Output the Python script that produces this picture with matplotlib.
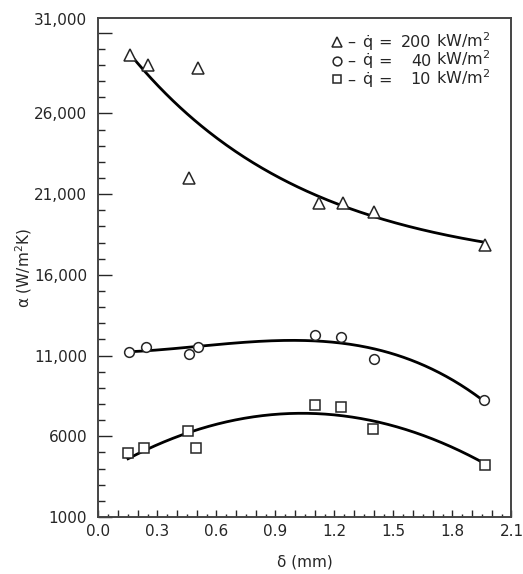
import numpy as np
import matplotlib
matplotlib.use("Agg")
import matplotlib.pyplot as plt
from matplotlib.ticker import MultipleLocator, FixedLocator, FuncFormatter
from matplotlib.lines import Line2D
from matplotlib.transforms import ScaledTranslation

plt.rcParams['font.family'] = ['DejaVu Sans']
plt.rcParams['mathtext.fontset'] = 'dejavusans'

# data (delta in mm, alpha in W/m2K)
x_200 = [0.161, 0.251, 0.505, 0.463, 1.12, 1.242, 1.399, 1.967]
y_200 = [29600, 28980, 28840, 22000, 20460, 20460, 19900, 17870]

x_40 = [0.154, 0.243, 0.463, 0.505, 1.101, 1.235, 1.40, 1.959]
y_40 = [11200, 11556, 11124, 11556, 12253, 12148, 10815, 8260]

x_10 = [0.151, 0.234, 0.458, 0.497, 1.101, 1.235, 1.396, 1.964]
y_10 = [4970, 5260, 6330, 5280, 7910, 7830, 6450, 4250]

ytick_vals = [1000, 6000, 11000, 16000, 21000, 26000, 31000]
ytick_labels = ["1000", "6000", "11,000", "16,000", "21,000", "26,000", "31,000"]

legend_q = ["200", "40", "10"]
legend_markers = ["^", "o", "s"]

ink = "#262626"
fs = 11
W, H = 523, 574

fig = plt.figure(figsize=(W / 100, H / 100), dpi=100)
ax = fig.add_axes([0.188, 0.0993, 0.790, 0.869])

# trend curves fitted to the points
def exp_fit(x, y):
    x = np.asarray(x); y = np.asarray(y)
    best = None
    for c in np.linspace(0.2, 5, 400):
        A = np.vstack([np.ones_like(x), np.exp(-c * x)]).T
        coef, res, _, _ = np.linalg.lstsq(A, y, rcond=None)
        err = np.sum((A @ coef - y) ** 2)
        if best is None or err < best[0]:
            best = (err, c, coef)
    return best[1], best[2]

c, (a, b) = exp_fit(x_200, y_200)
xs = np.linspace(min(x_200), max(x_200), 200)
ax.plot(xs, a + b * np.exp(-c * xs), color="black", lw=2, zorder=2)

p40 = np.polyfit(x_40, y_40, 3)
xs = np.linspace(min(x_40), max(x_40), 200)
ax.plot(xs, np.polyval(p40, xs), color="black", lw=2, zorder=2)

p10 = np.polyfit(x_10, y_10, 2)
xs = np.linspace(min(x_10), max(x_10), 200)
ax.plot(xs, np.polyval(p10, xs), color="black", lw=2, zorder=2)

mk = dict(linestyle="none", markerfacecolor="white", markeredgecolor=ink, markeredgewidth=1.1, zorder=3)
ax.plot(x_200, y_200, marker="^", markersize=8.6, **mk)
ax.plot(x_40, y_40, marker="o", markersize=7, **mk)
ax.plot(x_10, y_10, marker="s", markersize=6.8, **mk)

# legend drawn piece by piece (pixel layout of the original)
def fx(px):
    return px / W

def fy(py):
    return 1 - py / H

leg_fs = 11.5
leg_sizes = [7.5, 6.3, 6.3]
for i, (m, q) in enumerate(zip(legend_markers, legend_q)):
    row = 41.7 + 18.8 * i
    fig.add_artist(Line2D([fx(337)], [fy(row)], transform=fig.transFigure,
                          marker=m, markersize=leg_sizes[i], **mk))
    base = fy(row + 5)
    tk = dict(transform=fig.transFigure, fontsize=leg_fs, color=ink, va="baseline")
    fig.text(fx(351), base, "–", ha="center", **tk)
    fig.text(fx(367), base, "q\u0307", ha="center", **tk)
    fig.text(fx(384.5), base, "=", ha="center", **tk)
    fig.text(fx(431), base, q, ha="right", **tk)
    fig.text(fx(436), base, "kW/m$^2$", ha="left", **tk)

ax.set_xlim(0, 2.1)
ax.set_ylim(1000, 31900)

ax.xaxis.set_major_locator(MultipleLocator(0.1))
ax.xaxis.set_minor_locator(MultipleLocator(0.05))
ax.xaxis.set_major_formatter(FuncFormatter(
    lambda v, p: f"{v:.1f}" if abs(round(v / 0.3) * 0.3 - v) < 1e-6 else ""))
ax.yaxis.set_major_locator(FixedLocator(ytick_vals))
ax.set_yticklabels(ytick_labels)
ax.yaxis.set_minor_locator(MultipleLocator(1000))

ax.tick_params(axis="both", which="both", direction="in", colors=ink,
               labelsize=fs, top=False, right=False)
ax.tick_params(axis="x", which="major", length=5, width=1, pad=5)
ax.tick_params(axis="x", which="minor", length=2.5, width=1)
ax.tick_params(axis="y", which="major", length=10, width=1, pad=8)
ax.tick_params(axis="y", which="minor", length=5, width=1)

for s in ax.spines.values():
    s.set_color("#444444")
    s.set_linewidth(1.4)

ax.set_xlabel("δ (mm)", fontsize=fs, color=ink, labelpad=11)
ax.set_ylabel("α (W/m$^2$K)", fontsize=fs, color=ink)
ax.yaxis.set_label_coords(-0.155, 0.5)

# the top label sits a little above its tick in the original
top_lab = ax.get_yticklabels()[-1]
top_lab.set_transform(top_lab.get_transform() + ScaledTranslation(0, 0.14, fig.dpi_scale_trans))

fig.savefig("out.png", dpi=100)
